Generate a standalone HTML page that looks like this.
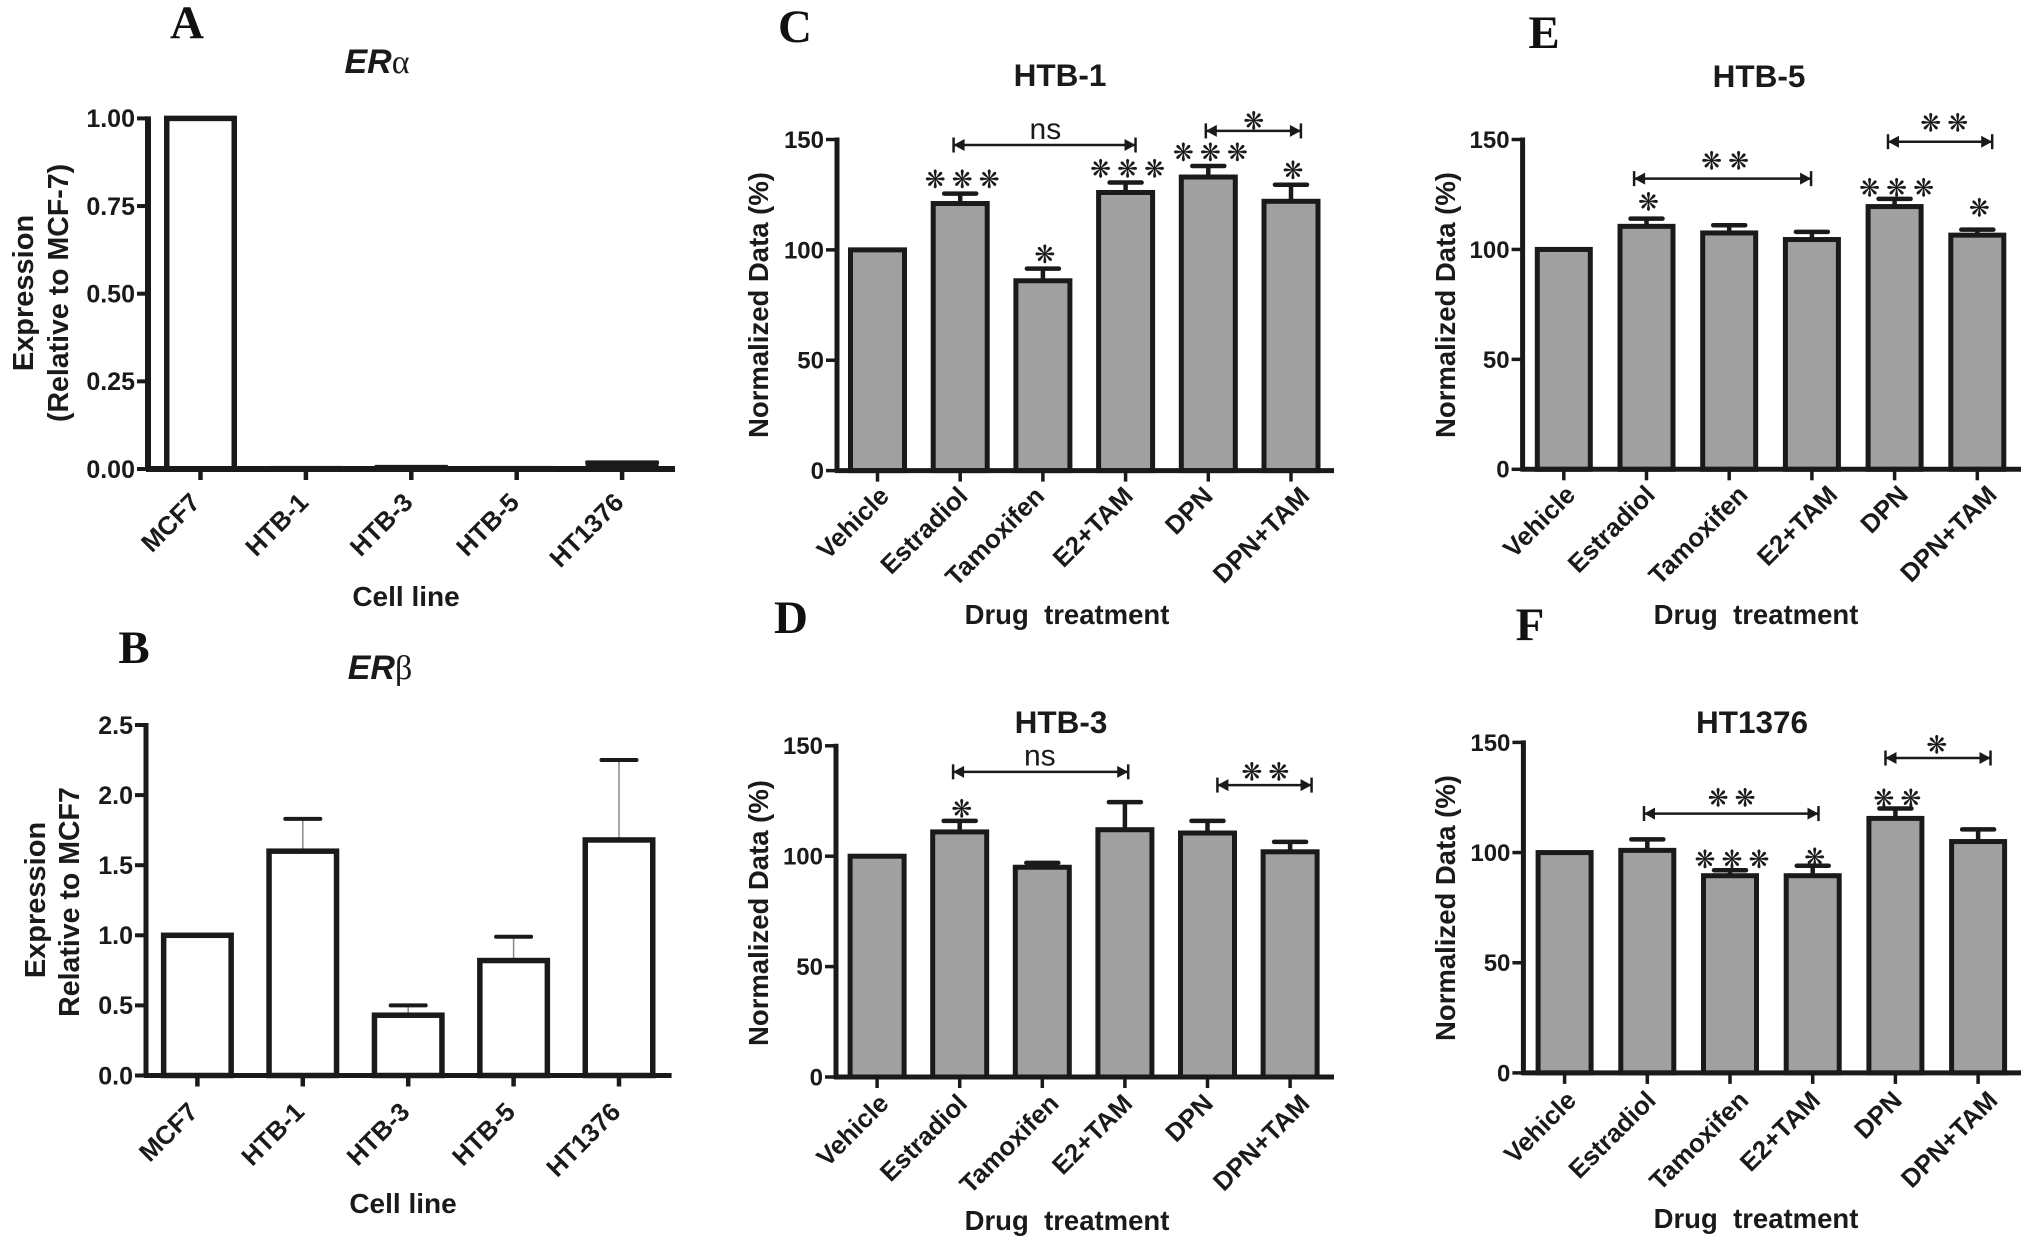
<!DOCTYPE html>
<html lang="en">
<head>
<meta charset="utf-8">
<title>Estrogen receptor expression and drug treatment bar charts</title>
<style>
html,body{margin:0;padding:0;background:#fff;width:2031px;height:1246px;overflow:hidden}
svg{display:block}
text{font-family:"Liberation Sans",sans-serif;fill:#1a1a1a}
.b{font-weight:700}
.letter{font-family:"Liberation Serif",serif;font-weight:700;font-size:47px;fill:#111}
.star{font-family:"DejaVu Sans",sans-serif;font-size:25px;fill:#1a1a1a}
</style>
</head>
<body>
<svg id="figure" xmlns="http://www.w3.org/2000/svg" width="2031" height="1246" viewBox="0 0 2031 1246">
  <text class="letter" x="187" y="38" text-anchor="middle">A</text>
  <text class="letter" x="134" y="663" text-anchor="middle">B</text>
  <text class="letter" x="795" y="42" text-anchor="middle">C</text>
  <text class="letter" x="791" y="633" text-anchor="middle">D</text>
  <text class="letter" x="1544" y="48" text-anchor="middle">E</text>
  <text class="letter" x="1530" y="640" text-anchor="middle">F</text>

  <text class="b" x="377" y="73" text-anchor="middle" font-size="34"><tspan font-style="italic">ER</tspan><tspan font-weight="400" style="font-family:'Liberation Serif',serif">α</tspan></text>
  <text class="b" x="380" y="679" text-anchor="middle" font-size="34"><tspan font-style="italic">ER</tspan><tspan font-weight="400" style="font-family:'Liberation Serif',serif">β</tspan></text>
  <text class="b" x="1060" y="86" text-anchor="middle" font-size="31.5">HTB-1</text>
  <text class="b" x="1061" y="733" text-anchor="middle" font-size="31.5">HTB-3</text>
  <text class="b" x="1759" y="87" text-anchor="middle" font-size="31.5">HTB-5</text>
  <text class="b" x="1752" y="733" text-anchor="middle" font-size="31.5">HT1376</text>

  <text class="b" x="406" y="606" text-anchor="middle" font-size="28">Cell line</text>
  <text class="b" x="403" y="1213" text-anchor="middle" font-size="28">Cell line</text>
  <text class="b" x="1067" y="624" text-anchor="middle" font-size="27.5" xml:space="preserve">Drug  treatment</text>
  <text class="b" x="1067" y="1230" text-anchor="middle" font-size="27.5" xml:space="preserve">Drug  treatment</text>
  <text class="b" x="1756" y="624" text-anchor="middle" font-size="27.5" xml:space="preserve">Drug  treatment</text>
  <text class="b" x="1756" y="1228" text-anchor="middle" font-size="27.5" xml:space="preserve">Drug  treatment</text>

  <text class="b" transform="translate(33,293) rotate(-90)" text-anchor="middle" font-size="29">Expression</text>
  <text class="b" transform="translate(68,293) rotate(-90)" text-anchor="middle" font-size="28.5">(Relative to MCF-7)</text>
  <text class="b" transform="translate(45,900) rotate(-90)" text-anchor="middle" font-size="29">Expression</text>
  <text class="b" transform="translate(79,902) rotate(-90)" text-anchor="middle" font-size="28.5">Relative to MCF7</text>
  <text class="b" transform="translate(768,305) rotate(-90)" text-anchor="middle" font-size="27.5">Normalized Data (%)</text>
  <text class="b" transform="translate(768,913) rotate(-90)" text-anchor="middle" font-size="27.5">Normalized Data (%)</text>
  <text class="b" transform="translate(1455,305) rotate(-90)" text-anchor="middle" font-size="27.5">Normalized Data (%)</text>
  <text class="b" transform="translate(1455,908) rotate(-90)" text-anchor="middle" font-size="27.5">Normalized Data (%)</text>
</svg>

<script>
// ---- chart data ----
const cellLines = ['MCF7', 'HTB-1', 'HTB-3', 'HTB-5', 'HT1376'];
const treatments = ['Vehicle', 'Estradiol', 'Tamoxifen', 'E2+TAM', 'DPN', 'DPN+TAM'];

const ticksA = ['0.00', '0.25', '0.50', '0.75', '1.00'];
const ticksB = ['0.0', '0.5', '1.0', '1.5', '2.0', '2.5'];
const ticksDrug = ['0', '50', '100', '150'];

const valuesA = [1.0, 0.001, 0.004, 0.001, 0.016];
const errorsA = [1.0, 0.001, 0.005, 0.001, 0.019];

const valuesB = [1.0, 1.6, 0.43, 0.82, 1.68];
const errorsB = [1.0, 1.83, 0.5, 0.99, 2.25];

const valuesC = [100, 121, 86, 126, 133, 122];
const errorsC = [100, 125.5, 91.5, 130.5, 138, 129.5];
const starCountC = [0, 3, 1, 3, 3, 1];
const starLevelC = [0, 131.8, 98, 136.7, 144, 135.9];

const valuesD = [100, 111, 95, 112, 110.5, 102];
const errorsD = [100, 116, 97, 124.5, 116, 106.5];
const starCountD = [0, 1, 0, 0, 0, 0];
const starLevelD = [0, 121.4, 0, 0, 0, 0];

const valuesE = [100, 110.5, 107.5, 104.5, 119.5, 106.5];
const errorsE = [100, 114, 111, 108, 123, 109];
const starCountE = [0, 1, 0, 0, 3, 1];
const starLevelE = [0, 121.6, 0, 0, 128, 118.8];

const valuesF = [100, 101, 89.5, 89.5, 115.5, 105];
const errorsF = [100, 106, 92, 94, 120, 110.5];
const starCountF = [0, 0, 3, 1, 2, 0];
const starLevelF = [0, 0, 96.8, 97.7, 124.6, 0];

// significance brackets: category-index span, value level, label
const bracketsC = [
  {from: 0.92, to: 3.12, level: 147.5, label: 'ns', labelAt: 2.03, labelLevel: 153.9},
  {from: 3.97, to: 5.12, level: 153.9, label: '1', labelAt: 4.55, labelLevel: 158.4}
];
const bracketsD = [
  {from: 0.92, to: 3.04, level: 138.2, label: 'ns', labelAt: 1.97, labelLevel: 144.8},
  {from: 4.12, to: 5.26, level: 132.2, label: '2', labelAt: 4.70, labelLevel: 138.2}
];
const bracketsE = [
  {from: 0.85, to: 2.99, level: 132.2, label: '2', labelAt: 1.95, labelLevel: 140.3},
  {from: 3.92, to: 5.18, level: 149, label: '2', labelAt: 4.60, labelLevel: 157.5}
];
const bracketsF = [
  {from: 0.96, to: 3.07, level: 117.7, label: '2', labelAt: 2.02, labelLevel: 124.8},
  {from: 3.88, to: 5.15, level: 142.9, label: '1', labelAt: 4.50, labelLevel: 148.8}
];

// ---- panel wiring (layout lives here, not in the data arrays) ----
const panels = [
  {id: 'a', cats: cellLines, vals: valuesA, errs: errorsA, ticks: ticksA, max: 1,
   axisX: 148, y0: 469, yTop: 118.4, xEnd: 675, x0: 200.5, step: 105.4, barW: 73, sw: 5.5, fill: '#fff',
   tickFont: 25, catFont: 25.8, catDy: 35, nudge: [1, 4, 3, 4, 3], tickW: 5, stem: 4, stemColor: '#1a1a1a', capW: 70, capH: 4, axisW: 6},
  {id: 'b', cats: cellLines, vals: valuesB, errs: errorsB, ticks: ticksB, max: 2.5,
   axisX: 146, y0: 1075.5, yTop: 725, xEnd: 671.6, x0: 197.4, step: 105.4, barW: 73, sw: 5.5, fill: '#fff',
   tickFont: 25, catFont: 25.8, catDy: 38, nudge: [2, 3, 3, 3, 3], tickW: 5, stem: 1.5, stemColor: '#888', capW: 35, capH: 4, axisW: 5},
  {id: 'c', cats: treatments, vals: valuesC, errs: errorsC, ticks: ticksDrug, max: 150,
   axisX: 837, y0: 470.6, yTop: 139.5, xEnd: 1334, x0: 877.5, step: 82.7, barW: 59, sw: 5, fill: '#a0a0a0',
   tickFont: 24, catFont: 25.8, catDy: 27, nudge: [13, 9, 3, 9, 6, 20], tickW: 3, stem: 4.5, stemColor: '#1a1a1a', capW: 32, capH: 4.5, axisW: 5,
   stars: starCountC, starLevels: starLevelC, brackets: bracketsC},
  {id: 'd', cats: treatments, vals: valuesD, errs: errorsD, ticks: ticksDrug, max: 150,
   axisX: 836, y0: 1077, yTop: 745.8, xEnd: 1334, x0: 877.1, step: 82.6, barW: 59, sw: 5, fill: '#a0a0a0',
   tickFont: 24, catFont: 25.8, catDy: 28, nudge: [13, 9, 18, 9, 7, 21], tickW: 3, stem: 4.5, stemColor: '#1a1a1a', capW: 32, capH: 4.5, axisW: 5,
   stars: starCountD, starLevels: starLevelD, brackets: bracketsD},
  {id: 'e', cats: treatments, vals: valuesE, errs: errorsE, ticks: ticksDrug, max: 150,
   axisX: 1522.6, y0: 469.3, yTop: 139.5, xEnd: 2021, x0: 1563.8, step: 82.7, barW: 58, sw: 5, fill: '#a0a0a0',
   tickFont: 24, catFont: 25.8, catDy: 27, nudge: [13, 10, 20, 27, 15, 21], tickW: 3, stem: 4.5, stemColor: '#1a1a1a', capW: 32, capH: 4.5, axisW: 5,
   stars: starCountE, starLevels: starLevelE, brackets: bracketsE},
  {id: 'f', cats: treatments, vals: valuesF, errs: errorsF, ticks: ticksDrug, max: 150,
   axisX: 1523.4, y0: 1072.9, yTop: 742.4, xEnd: 2021, x0: 1564.6, step: 82.7, barW: 58, sw: 5, fill: '#a0a0a0',
   tickFont: 24, catFont: 25.8, catDy: 29, nudge: [13, 10, 20, 9, 8, 21], tickW: 3, stem: 4.5, stemColor: '#1a1a1a', capW: 32, capH: 4.5, axisW: 5,
   stars: starCountF, starLevels: starLevelF, brackets: bracketsF}
];

const NS = 'http://www.w3.org/2000/svg';
const svg = document.getElementById('figure');
const INK = '#1a1a1a';

function shape(parent, tag, attrs, text) {
  const el = document.createElementNS(NS, tag);
  for (const k in attrs) el.setAttribute(k, attrs[k]);
  if (text !== undefined) el.textContent = text;
  parent.appendChild(el);
  return el;
}

function drawStars(g, cx, cy, n, name) {
  const gap = 27;
  for (let s = 0; s < n; s++) {
    const star = shape(g, 'text', {class: 'star', x: cx + (s - (n - 1) / 2) * gap, y: cy, 'text-anchor': 'middle', 'dominant-baseline': 'central'}, '❋');
    
    
  }
}

panels.forEach(function (p) {
  const xScale = function (i) { return p.x0 + i * p.step; };
  const yScale = function (v) { return p.y0 - v / p.max * (p.y0 - p.yTop); };

  const g = shape(svg, 'g', {});
  
  

  // error bars behind the bars
  p.vals.forEach(function (v, i) {
    const e = p.errs[i];
    if (e > v) {
      const stem = shape(g, 'line', {x1: xScale(i), x2: xScale(i), y1: yScale(v), y2: yScale(e), stroke: p.stemColor, 'stroke-width': p.stem});
      
      
      const cap = shape(g, 'line', {x1: xScale(i) - p.capW / 2, x2: xScale(i) + p.capW / 2, y1: yScale(e), y2: yScale(e), stroke: INK, 'stroke-width': p.capH, 'stroke-linecap': 'round'});
      
      
    }
  });

  // bars
  p.vals.forEach(function (v, i) {
    const inner = p.barW - p.sw;
    const bar = shape(g, 'rect', {x: xScale(i) - inner / 2, y: yScale(v), width: inner, height: p.y0 - yScale(v), fill: p.fill, stroke: INK, 'stroke-width': p.sw});
    
    
  });

  // axes
  const yAxis = shape(g, 'line', {x1: p.axisX, x2: p.axisX, y1: p.yTop - 2, y2: p.y0 + 2, stroke: INK, 'stroke-width': p.axisW});
  
  
  const xAxis = shape(g, 'line', {x1: p.axisX - 2, x2: p.xEnd, y1: p.y0, y2: p.y0, stroke: INK, 'stroke-width': p.axisW});
  
  

  // y ticks
  p.ticks.forEach(function (label) {
    const y = yScale(parseFloat(label));
    const tick = shape(g, 'line', {x1: p.axisX - 11, x2: p.axisX, y1: y, y2: y, stroke: INK, 'stroke-width': p.tickW === 5 ? 4 : 3.5});
    
    
    const txt = shape(g, 'text', {class: 'b', x: p.axisX - 13, y: y + p.tickFont * 0.35, 'text-anchor': 'end', 'font-size': p.tickFont}, label);
    
    
  });

  // x ticks and category labels
  p.cats.forEach(function (c, i) {
    const x = xScale(i);
    const tick = shape(g, 'line', {x1: x, x2: x, y1: p.y0, y2: p.y0 + 11, stroke: INK, 'stroke-width': p.tickW === 5 ? 4.5 : 3.5});
    
    
    const lx = x + p.nudge[i];
    const ly = p.y0 + p.catDy;
    const txt = shape(g, 'text', {class: 'b', transform: 'translate(' + lx + ',' + ly + ') rotate(-45)', 'text-anchor': 'end', 'font-size': p.catFont}, c);
    
    
  });

  // stars above bars
  if (p.stars) {
    p.stars.forEach(function (n, i) {
      if (n > 0) drawStars(g, xScale(i) + 2, yScale(p.starLevels[i]), n, 'significance-stars-' + p.id);
    });
  }

  // brackets
  if (p.brackets) {
    p.brackets.forEach(function (b) {
      const x1 = xScale(b.from), x2 = xScale(b.to), y = yScale(b.level);
      const line = shape(g, 'line', {x1: x1, x2: x2, y1: y, y2: y, stroke: INK, 'stroke-width': 2.5});
      
      
      const endL = shape(g, 'line', {x1: x1, x2: x1, y1: y - 7.5, y2: y + 7.5, stroke: INK, 'stroke-width': 2.5});
      
      
      const endR = shape(g, 'line', {x1: x2, x2: x2, y1: y - 7.5, y2: y + 7.5, stroke: INK, 'stroke-width': 2.5});
      
      
      const headL = shape(g, 'path', {d: 'M' + x1 + ' ' + y + 'l11 -6v12z', fill: INK});
      
      
      const headR = shape(g, 'path', {d: 'M' + x2 + ' ' + y + 'l-11 -6v12z', fill: INK});
      
      
      if (b.label === 'ns') {
        const t = shape(g, 'text', {x: xScale(b.labelAt), y: yScale(b.labelLevel) + 8, 'text-anchor': 'middle', 'font-size': 30}, 'ns');
        
        
      } else {
        drawStars(g, xScale(b.labelAt), yScale(b.labelLevel), parseInt(b.label, 10), 'bracket-stars-' + p.id);
      }
    });
  }
});
</script>
</body>
</html>
